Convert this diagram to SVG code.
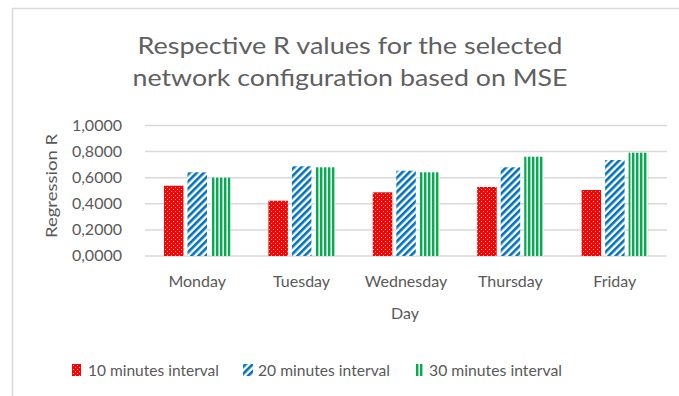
<svg xmlns="http://www.w3.org/2000/svg" width="679" height="396" viewBox="0 0 679 396">
<defs>
<style>
text{font-family:Lato,"Open Sans","Liberation Sans",sans-serif;fill:#595959}
.grid{stroke:#d9d9d9;stroke-width:1.5}
.ylab{font-size:16px;text-anchor:end}
.xlab{font-size:16px;text-anchor:middle}
.leg{font-size:16px}
.title{font-size:23px;text-anchor:middle;fill:#606060}
</style>
<pattern id="pRed" width="4" height="4" patternUnits="userSpaceOnUse">
<rect width="4" height="4" fill="#ff0000"/>
<rect x="1" y="1" width="1" height="1" fill="#ffffff"/>
<rect x="3" y="3" width="1" height="1" fill="#ffb3b3"/>
</pattern>
<pattern id="pBlue" width="5" height="5" patternUnits="userSpaceOnUse" patternTransform="rotate(-45)">
<rect width="5" height="5" fill="#ffffff"/>
<rect width="5" height="2.6" fill="#0070c0"/>
</pattern>
<pattern id="pGreen" width="4" height="4" patternUnits="userSpaceOnUse">
<rect width="4" height="4" fill="#ffffff"/>
<rect x="0" width="2" height="4" fill="#00b050"/>
<rect x="2" width="1" height="4" fill="#8fdcae"/>
</pattern>
</defs>
<rect width="679" height="396" fill="#ffffff"/>
<g id="frame"><path d="M12.5,396 V8.5 H679" fill="none" stroke="#d9d9d9" stroke-width="1.5"/></g>
<g id="title">
<text class="title" x="350" y="54" textLength="425" lengthAdjust="spacingAndGlyphs">Respective R values for the selected</text>
<text class="title" x="350" y="86" textLength="435" lengthAdjust="spacingAndGlyphs">network configuration based on MSE</text>
</g>
<g id="gridlines">
<line class="grid" x1="145" y1="125.5" x2="667" y2="125.5"/>
<line class="grid" x1="145" y1="151.6" x2="667" y2="151.6"/>
<line class="grid" x1="145" y1="177.7" x2="667" y2="177.7"/>
<line class="grid" x1="145" y1="203.8" x2="667" y2="203.8"/>
<line class="grid" x1="145" y1="229.9" x2="667" y2="229.9"/>
<line class="grid" x1="145" y1="256" x2="667" y2="256"/>
</g>
<g id="y-axis">
<text class="ylab" x="122" y="131">1,0000</text>
<text class="ylab" x="122" y="157">0,8000</text>
<text class="ylab" x="122" y="183">0,6000</text>
<text class="ylab" x="122" y="209">0,4000</text>
<text class="ylab" x="122" y="235">0,2000</text>
<text class="ylab" x="122" y="261">0,0000</text>
<text class="xlab" transform="translate(57,186) rotate(-90)" textLength="104" lengthAdjust="spacingAndGlyphs">Regression R</text>
</g>
<g id="series-10min" fill="url(#pRed)">
<rect x="164" y="185.7" width="19.5" height="70.3"/>
<rect x="268.4" y="200.7" width="19.5" height="55.3"/>
<rect x="372.8" y="192.3" width="19.5" height="63.7"/>
<rect x="477.2" y="187" width="19.5" height="69"/>
<rect x="581.6" y="190" width="19.5" height="66"/>
</g>
<g id="series-20min" fill="url(#pBlue)">
<rect x="187.5" y="172.3" width="19.5" height="83.7"/>
<rect x="291.9" y="166.3" width="19.5" height="89.7"/>
<rect x="396.3" y="170.7" width="19.5" height="85.3"/>
<rect x="500.7" y="167.3" width="19.5" height="88.7"/>
<rect x="605.1" y="160" width="19.5" height="96"/>
</g>
<g id="series-30min" fill="url(#pGreen)">
<rect x="211" y="177.7" width="19.5" height="78.3"/>
<rect x="315.4" y="167.3" width="19.5" height="88.7"/>
<rect x="419.8" y="172.3" width="19.5" height="83.7"/>
<rect x="524.2" y="156.7" width="19.5" height="99.3"/>
<rect x="628.6" y="152.7" width="19.5" height="103.3"/>
</g>
<g id="x-axis">
<text class="xlab" x="197.2" y="287">Monday</text>
<text class="xlab" x="301.6" y="287">Tuesday</text>
<text class="xlab" x="406" y="287">Wednesday</text>
<text class="xlab" x="510.4" y="287">Thursday</text>
<text class="xlab" x="614.8" y="287">Friday</text>
<text class="xlab" x="405" y="319">Day</text>
</g>
<g id="legend">
<g id="legend-10"><rect x="72" y="364" width="9" height="12" fill="url(#pRed)"/><text class="leg" x="88" y="376" textLength="131" lengthAdjust="spacingAndGlyphs">10 minutes interval</text></g>
<g id="legend-20"><rect x="243" y="364" width="10" height="12" fill="url(#pBlue)"/><text class="leg" x="258" y="376" textLength="132" lengthAdjust="spacingAndGlyphs">20 minutes interval</text></g>
<g id="legend-30"><rect x="415" y="364" width="8" height="12" fill="url(#pGreen)"/><text class="leg" x="429" y="376" textLength="133" lengthAdjust="spacingAndGlyphs">30 minutes interval</text></g>
</g>
</svg>
